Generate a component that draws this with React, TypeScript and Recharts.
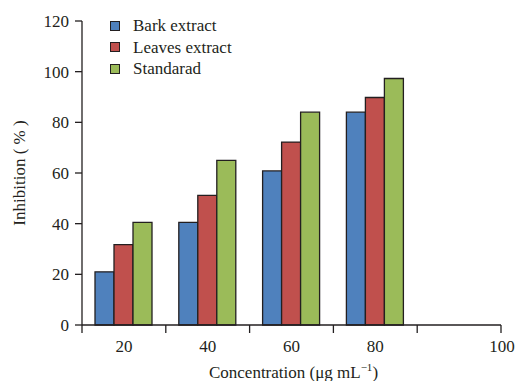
import React from "react";
import { BarChart, Bar, XAxis, YAxis, Legend, Label } from "recharts";

const categories = ["20", "40", "60", "80", "100"];
const barkExtract = [21, 40.5, 60.8, 84, null];
const leavesExtract = [31.7, 51.2, 72.2, 89.8, null];
const standarad = [40.5, 65, 84, 97.3, null];
const yTicks = [0, 20, 40, 60, 80, 100, 120];
const seriesNames = ["Bark extract", "Leaves extract", "Standarad"];
const seriesKeys = ["bark", "leaves", "standard"];
const seriesColors = ["#4F81BD", "#C0504D", "#9BBB59"];

const data = categories.map((c, i) => ({
  conc: c,
  bark: barkExtract[i],
  leaves: leavesExtract[i],
  standard: standarad[i],
}));

const FONT = "Liberation Serif";
const INK = "#231f20";

const T = (props: any) => (
  <text fontFamily={FONT} fontSize={17} fill={INK} {...props} />
);

const XTick = (props: any) => {
  const { x, y, payload, index } = props;
  const half = payload && typeof payload.offset === "number" && payload.offset > 0 ? payload.offset : 41.8;
  const last = index === categories.length - 1;
  return (
    <g>
      <line x1={x - half} x2={x - half} y1={y} y2={y + 8} stroke={INK} strokeWidth={1.3} />
      {last && <line x1={x + half} x2={x + half} y1={y} y2={y + 8} stroke={INK} strokeWidth={1.3} />}
      <T x={last ? x + half + 1 : x} y={y + 27} textAnchor="middle">
        {payload.value}
      </T>
    </g>
  );
};

const YTick = (props: any) => {
  const { x, y, payload } = props;
  return (
    <T x={x} y={y} dy="0.355em" textAnchor="end">
      {payload.value}
    </T>
  );
};

const XLabel = (props: any) => {
  const vb = props.viewBox || { x: 82, y: 325, width: 419, height: 56 };
  return (
    <T x={vb.x + vb.width / 2 + 2} y={vb.y + 53} textAnchor="middle">
      Concentration (μg mL
      <tspan dy={-7} fontSize={11}>−1</tspan>
      <tspan dy={7}>)</tspan>
    </T>
  );
};

const YLabel = (props: any) => {
  const vb = props.viewBox || { x: 0, y: 21, width: 82, height: 304 };
  const cx = 19;
  const cy = vb.y + vb.height / 2;
  return (
    <T x={cx} y={cy} dy="0.355em" textAnchor="middle" transform={`rotate(-90 ${cx} ${cy})`}>
      Inhibition ( % )
    </T>
  );
};

const LegendContent = () => (
  <div style={{ fontFamily: FONT, fontSize: 17, color: INK, lineHeight: "21.5px" }}>
    {seriesNames.map((n, i) => (
      <div key={n} style={{ display: "flex", alignItems: "center", whiteSpace: "nowrap" }}>
        <span
          style={{
            display: "inline-block",
            width: 10,
            height: 10,
            boxSizing: "border-box",
            background: seriesColors[i],
            border: `1.3px solid ${INK}`,
            marginRight: 13,
          }}
        />
        {n}
      </div>
    ))}
  </div>
);

export default function App() {
  return (
    <div style={{ position: "absolute", left: 0, top: 0, fontFamily: FONT }}>
      <BarChart
        width={515}
        height={381}
        data={data}
        margin={{ top: 21, right: 14, bottom: 0, left: 0 }}
        barGap={0}
        barSize={19}
        style={{ fontFamily: FONT }}
      >
        <XAxis
          dataKey="conc"
          height={56}
          tickLine={false}
          tickSize={0}
          tickMargin={0}
          axisLine={{ stroke: INK, strokeWidth: 1.3 }}
          tick={<XTick />}
          interval={0}
        >
          <Label content={<XLabel />} />
        </XAxis>
        <YAxis
          width={82}
          domain={[0, 120]}
          ticks={yTicks}
          interval={0}
          tickSize={7}
          tickMargin={6}
          axisLine={{ stroke: INK, strokeWidth: 1.3 }}
          tickLine={{ stroke: INK, strokeWidth: 1.3 }}
          tick={<YTick />}
        >
          <Label content={<YLabel />} />
        </YAxis>
        <Legend
          layout="vertical"
          align="center"
          verticalAlign="middle"
          content={<LegendContent />}
          wrapperStyle={{ left: 110, top: 15, width: "auto", height: "auto" }}
        />
        {seriesKeys.map((k, i) => (
          <Bar
            key={k}
            dataKey={k}
            name={seriesNames[i]}
            fill={seriesColors[i]}
            stroke={INK}
            strokeWidth={1.3}
            isAnimationActive={false}
          />
        ))}
      </BarChart>
    </div>
  );
}
